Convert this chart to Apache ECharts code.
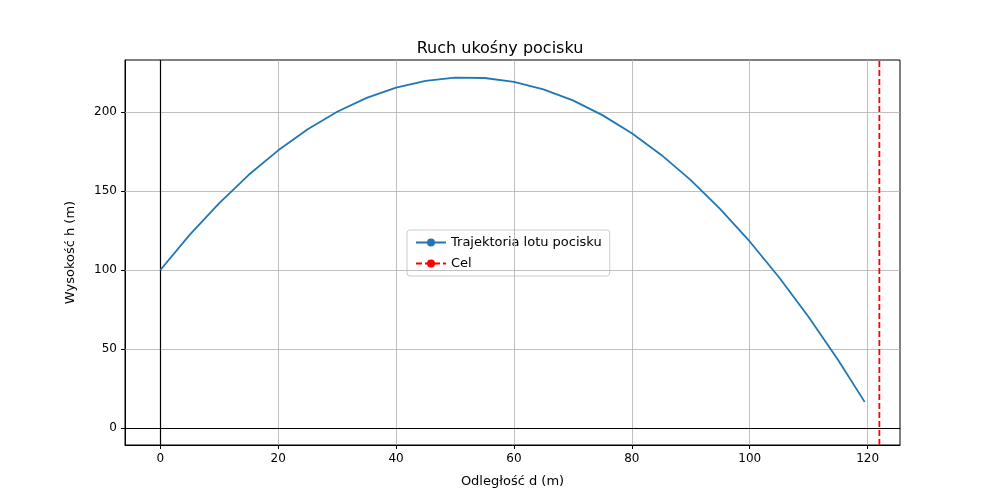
<!DOCTYPE html>
<html><head><meta charset="utf-8">
<script src="https://cdn.jsdelivr.net/npm/echarts@6/dist/echarts.min.js"></script>
<style>html,body{margin:0;background:#fff}#c{width:1000px;height:500px}</style>
</head><body><div id="c"></div>
<script>
// Trajectory points
const distance = [0, 5, 10, 15, 20, 25, 30, 35, 40, 45, 50, 55, 60, 65, 70, 75, 80, 85, 90, 95, 100, 105, 110, 115, 119.5];
const height = [100, 122.4, 142.4, 160.3, 175.8, 189.1, 200.2, 209, 215.5, 219.8, 221.8, 221.6, 219.1, 214.4, 207.4, 198.1, 186.6, 172.9, 156.9, 138.6, 118.1, 95.3, 70.3, 43, 16.5];
const targetX = 122;
const xTicks = [0, 20, 40, 60, 80, 100, 120];
const yTicks = [0, 50, 100, 150, 200];

const font = 'DejaVu Sans';
const chart = echarts.init(document.getElementById('c'));

const gridLines = xTicks.map(v => ({ xAxis: v }))
    .concat(yTicks.map(v => ({ yAxis: v })));

chart.setOption({
    animation: false,
    textStyle: { fontFamily: font },
    title: {
        text: 'Ruch ukośny pocisku', left: 'center', top: 36,
        textStyle: { fontFamily: font, fontSize: 16, fontWeight: 'normal', color: '#000' }
    },
    grid: { left: 125, right: 100, top: 60, bottom: 55, show: true, borderColor: '#000', borderWidth: 1 },
    legend: {
        left: 407, top: 230, orient: 'vertical', itemWidth: 30, itemHeight: 10, itemGap: 8,
        borderColor: '#ccc', borderWidth: 1, borderRadius: 3, padding: [6, 8],
        textStyle: { fontFamily: font, fontSize: 13, color: '#000' },
        data: ['Trajektoria lotu pocisku', 'Cel']
    },
    xAxis: {
        type: 'value', min: -6, max: 125.5,
        name: 'Odległość d (m)', nameLocation: 'middle', nameGap: 30,
        nameTextStyle: { fontSize: 13, color: '#000' },
        axisLine: { onZero: false, lineStyle: { color: '#000' } },
        axisTick: { show: true, customValues: xTicks, length: 4, lineStyle: { color: '#000' } },
        axisLabel: { customValues: xTicks, color: '#000', fontSize: 12 },
        splitLine: { show: false }
    },
    yAxis: {
        type: 'value', min: -10.8, max: 233,
        name: 'Wysokość h (m)', nameLocation: 'middle', nameGap: 48,
        nameTextStyle: { fontSize: 13, color: '#000' },
        axisLine: { show: true, onZero: false, lineStyle: { color: '#000' } },
        axisTick: { show: true, customValues: yTicks, length: 4, lineStyle: { color: '#000' } },
        axisLabel: { customValues: yTicks, color: '#000', fontSize: 12 },
        splitLine: { show: false }
    },
    series: [
        {
            name: 'grid', type: 'line', data: [], silent: true,
            markLine: {
                symbol: 'none', silent: true, label: { show: false },
                lineStyle: { color: '#b0b0b0', type: 'solid', width: 0.8 },
                data: gridLines
            }
        },
        {
            name: 'axes0', type: 'line', data: [], silent: true, z: 3,
            markLine: {
                symbol: 'none', silent: true, label: { show: false },
                lineStyle: { color: '#000', type: 'solid', width: 1.2 },
                data: [{ xAxis: 0 }, { yAxis: 0 }]
            }
        },
        {
            name: 'Trajektoria lotu pocisku', type: 'line', showSymbol: false, symbol: 'none', z: 5,
            lineStyle: { color: '#1f77b4', width: 1.8 }, itemStyle: { color: '#1f77b4' },
            data: distance.map((d, i) => [d, height[i]])
        },
        {
            name: 'Cel', type: 'line', showSymbol: false, symbol: 'none', z: 5,
            lineStyle: { color: '#ff0000', width: 1.8, type: [6, 3] }, itemStyle: { color: '#ff0000' },
            data: [[targetX, -10.8], [targetX, 233]]
        }
    ]
});
</script></body></html>
